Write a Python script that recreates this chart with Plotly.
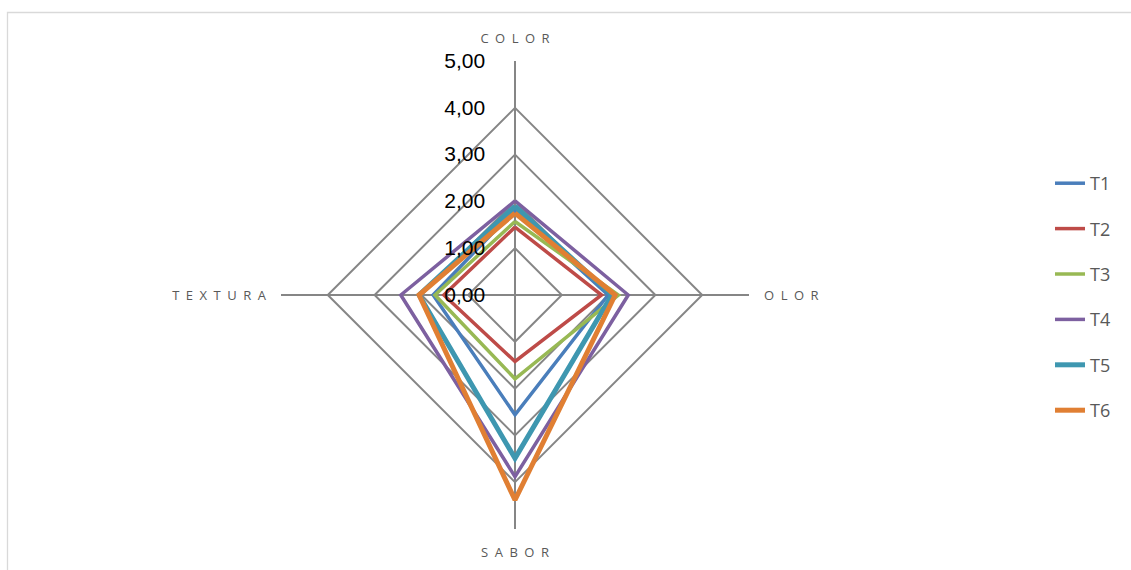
import plotly.graph_objects as go

# Sensory attributes evaluated (radar axes)
attributes = ["COLOR", "OLOR", "SABOR", "TEXTURA"]

# Mean scores per treatment
t1 = [1.82, 1.99, 2.56, 1.75]
t2 = [1.45, 1.85, 1.42, 1.52]
t3 = [1.57, 2.21, 1.79, 1.71]
t4 = [2.01, 2.42, 3.88, 2.44]
t5 = [1.90, 2.07, 3.49, 2.05]
t6 = [1.75, 2.14, 4.38, 2.05]

series_names = ["T1", "T2", "T3", "T4", "T5", "T6"]
series_values = [t1, t2, t3, t4, t5, t6]
colors = ["#4A7EBB", "#BE4B48", "#98B954", "#7D60A0", "#3E97B0", "#E07F33"]
widths = [3.5, 3.5, 3.5, 3.5, 5, 5]

radial_ticks = [0, 1, 2, 3, 4, 5]


def spaced(label):
    # letter-spaced axis captions
    return "\u2002".join(label)


theta_labels = [spaced(a) for a in attributes]

fig = go.Figure()
for i, (name, vals) in enumerate(zip(series_names, series_values)):
    fig.add_trace(go.Scatterpolar(
        r=vals + [vals[0]],
        theta=theta_labels + [theta_labels[0]],
        mode="lines",
        name=name,
        legendgroup=name,
        line=dict(color=colors[i], width=widths[i]),
        hoverinfo="skip",
    ))

cx, cy, rad = 515, 295, 234
W, H = 1131, 570

fig.update_layout(
    width=W,
    height=H,
    margin=dict(l=0, r=0, t=0, b=0),
    paper_bgcolor="white",
    plot_bgcolor="white",
    separators=",.",
    font=dict(family="Open Sans, DejaVu Sans, sans-serif", color="#595959"),
    polar=dict(
        domain=dict(x=[(cx - rad) / W, (cx + rad) / W],
                    y=[1 - (cy + rad) / H, 1 - (cy - rad) / H]),
        gridshape="linear",
        bgcolor="white",
        angularaxis=dict(
            rotation=90,
            direction="clockwise",
            showline=False,
            gridcolor="#868686",
            gridwidth=1.5,
            ticks="outside",
            ticklen=12,
            tickcolor="rgba(0,0,0,0)",
            tickfont=dict(size=13, color="#595959"),
        ),
        radialaxis=dict(
            range=[0, 5],
            tickvals=radial_ticks,
            tickformat=".2f",
            angle=90,
            tickangle=90,
            side="counterclockwise",
            showline=False,
            ticks="outside",
            ticklen=22,
            tickcolor="rgba(0,0,0,0)",
            gridcolor="#868686",
            gridwidth=1.5,
            tickfont=dict(size=21, color="#000000",
                          family="Liberation Sans, Arial, sans-serif"),
        ),
    ),
    legend=dict(
        x=1050 / W,
        y=1 - 165 / H,
        xanchor="left",
        yanchor="top",
        tracegroupgap=19,
        traceorder="grouped",
        font=dict(size=18, color="#595959"),
        bgcolor="rgba(0,0,0,0)",
    ),
    shapes=[
        dict(type="rect", xref="paper", yref="paper",
             x0=7.5 / W, x1=1.05, y0=-0.05, y1=1 - 12.5 / H,
             line=dict(color="#D9D9D9", width=1.3), fillcolor="rgba(0,0,0,0)"),
    ],
)

fig.write_html("out.html")
